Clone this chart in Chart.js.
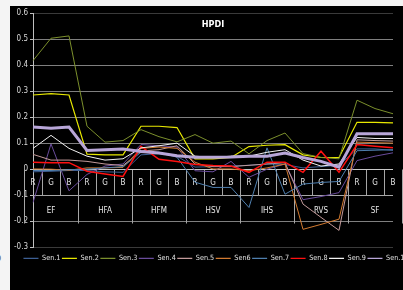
<!DOCTYPE html>
<html>
<head>
<meta charset="utf-8">
<script src="https://cdn.jsdelivr.net/npm/chart.js@4.4.0/dist/chart.umd.min.js"></script>
<style>
html,body{margin:0;padding:0;width:403px;height:290px;overflow:hidden;background:#f4f4f4}
#box{position:absolute;left:10px;top:6px;width:412px;height:284px;background:#000}
#frag{position:absolute;left:-4px;top:253px;font:9px "Liberation Sans",Arial,sans-serif;color:#555}
</style>
</head>
<body>
<span id="frag">0</span>
<div id="box"><canvas id="chart"></canvas></div>
<script>

const titleText="HPDI"
const categories=["EF","HFA","HFM","HSV","IHS","RVS","SF"]
const channels=["R","G","B"]
const yTickLabels=["-0.3","-0.2","-0.1","0","0.1","0.2","0.3","0.4","0.5","0.6"]
const seriesNames=["Sen.1","Sen.2","Sen.3","Sen.4","Sen.5","Sen6","Sen.7","Sen.8","Sen.9","Sen.10"]

const sen1=[-0.01,-0.008,-0.005, -0.005,-0.01,-0.012, 0.055,0.06,0.05, 0.008,0.01,0.012, 0.015,0.02,0.018, 0.005,0.01,0.015, 0.078,0.078,0.072]
const sen2=[0.285,0.29,0.285, 0.058,0.055,0.055, 0.165,0.165,0.16, 0.04,0.04,0.045, 0.087,0.092,0.094, 0.055,0.045,0.045, 0.18,0.18,0.178]
const sen3=[0.417,0.503,0.512, 0.165,0.104,0.11, 0.152,0.125,0.105, 0.133,0.1,0.108, 0.059,0.11,0.139, 0.06,0.045,0.04, 0.265,0.233,0.213]
const sen4=[-0.128,0.097,-0.083, -0.02,0.012,0.02, 0.095,0.09,0.085, -0.006,-0.01,0.03, -0.031,0.0,0.02, -0.117,-0.105,-0.09, 0.033,0.05,0.063]
const sen5=[0.057,0.035,0.035, 0.03,0.02,0.014, 0.07,0.075,0.09, 0.02,0.01,0.01, 0.015,0.02,0.025, -0.134,-0.185,-0.235, 0.113,0.11,0.108]
const sen6=[0.001,0,-0.004, 0.005,0.005,0.007, 0.08,0.085,0.08, 0.027,0.001,0.001, -0.006,0.005,0.02, -0.231,-0.212,-0.192, 0.104,0.102,0.1]
const sen7=[-0.005,-0.005,-0.002, 0,0.005,0.01, 0.065,0.065,0.046, -0.05,-0.07,-0.07, -0.147,0.082,-0.096, -0.057,-0.051,-0.047, 0.071,0.073,0.075]
const sen8=[0.027,0.025,0.025, -0.008,-0.018,-0.028, 0.088,0.038,0.03, 0.018,0.014,0.012, -0.012,0.027,0.027, -0.012,0.069,-0.012, 0.095,0.088,0.082]
const sen9=[0.08,0.13,0.08, 0.05,0.035,0.04, 0.082,0.09,0.1, 0.05,0.045,0.05, 0.05,0.065,0.075, 0.035,0.012,0.02, 0.122,0.118,0.118]
const sen10=[0.162,0.157,0.162, 0.072,0.075,0.078, 0.068,0.062,0.052, 0.046,0.046,0.047, 0.05,0.05,0.062, 0.045,0.03,0.008, 0.136,0.136,0.136]

const seriesValues=[sen1,sen2,sen3,sen4,sen5,sen6,sen7,sen8,sen9,sen10]
const seriesColors=["#3d5f94","#e8e800","#7b8f2c","#6a4c9c","#c39a9a","#d27a30","#4f7fae","#ff1010","#f2f2f2","#b8a6d8"]
const seriesWidths=[1,1.2,1,1,1,1,1,1.5,1,3]

const fontFam='"Liberation Sans Narrow","DejaVu Sans Condensed","Liberation Sans",Arial,sans-serif'

// R G B row labels, one per point
let labels=[]
categories.forEach(c=>channels.forEach(ch=>labels.push(ch)))

const datasets=seriesValues.map((vals,i)=>({
label:seriesNames[i],
data:vals,
borderColor:seriesColors[i],
backgroundColor:seriesColors[i],
borderWidth:seriesWidths[i],
pointRadius:0,
tension:0,
order:seriesValues.length-i
}))

// category "table" under the zero line, and the title inside the plot
const tablePlugin={
id:"catTable",
beforeDatasetsDraw(chart){
const ctx=chart.ctx
const x=chart.scales.x
const y=chart.scales.y
const a=chart.chartArea
const y0=Math.round(y.getPixelForValue(0))+0.5
const y1=Math.round(y.getPixelForValue(-0.1))+0.5
const y2=Math.round(y.getPixelForValue(-0.2))+0.5
ctx.save()
ctx.lineWidth=1
ctx.strokeStyle="#a6a6a6"
ctx.beginPath()
ctx.moveTo(a.left,y1)
ctx.lineTo(a.right,y1)
for(let i=0;i<=labels.length;i++){
const xb=Math.round(x.getPixelForValue(i-0.5))+0.5
ctx.moveTo(xb,y0)
ctx.lineTo(xb,i%3==0?y2+2:y1)
}
ctx.stroke()
ctx.strokeStyle="#c8c8c8"
ctx.beginPath()
ctx.moveTo(a.left,y0)
ctx.lineTo(a.right,y0)
ctx.stroke()
ctx.fillStyle="#e8e8e8"
ctx.font="8px "+fontFam
ctx.textAlign="center"
ctx.textBaseline="middle"
labels.forEach((t,i)=>ctx.fillText(t,x.getPixelForValue(i),(y0+y1)/2))
categories.forEach((t,g)=>ctx.fillText(t,x.getPixelForValue(g*3+1),(y1+y2)/2+2))
ctx.restore()
},
afterDatasetsDraw(chart){
const ctx=chart.ctx
const a=chart.chartArea
ctx.save()
ctx.fillStyle="#ffffff"
ctx.font="bold 9px "+fontFam
ctx.textAlign="center"
ctx.textBaseline="middle"
ctx.fillText(titleText,(a.left+a.right)/2,a.top+12)
ctx.restore()
}
}

const ctx=document.getElementById("chart")

new Chart(ctx,{
type:"line",
data:{labels:labels,datasets:datasets},
plugins:[tablePlugin],
options:{
responsive:true,
maintainAspectRatio:false,
animation:false,
layout:{padding:{top:7,right:0,bottom:18,left:0}},
scales:{
x:{
display:true,
ticks:{display:false},
grid:{display:false,drawTicks:false},
border:{display:false},
afterFit(s){s.height=6}
},
y:{
min:-0.3,
max:0.6,
ticks:{
stepSize:0.1,
color:"#d9d9d9",
font:{size:8,family:fontFam},
padding:2,
callback:(v,i)=>yTickLabels[i]
},
grid:{
color:c=>(c.tick&&(Math.abs(c.tick.value-0.6)<1e-6||Math.abs(c.tick.value+0.3)<1e-6))?"#3a3a3a":"#7f7f7f",
tickColor:"#bfbfbf",
tickLength:3
},
border:{color:"#bfbfbf"},
afterFit(s){s.width=23}
},
yr:{
position:"right",
display:true,
min:-0.3,
max:0.6,
ticks:{display:false},
grid:{display:false,drawTicks:false},
border:{display:false},
afterFit(s){s.width=29}
}
},
plugins:{
title:{display:false},
tooltip:{enabled:false},
legend:{
position:"bottom",
labels:{
color:"#e0e0e0",
font:{size:7.2,family:fontFam},
usePointStyle:true,
pointStyle:"line",
pointStyleWidth:15,
padding:1.5,
generateLabels:chart=>{
const items=Chart.defaults.plugins.legend.labels.generateLabels(chart)
items.forEach(it=>{it.lineWidth=1.2})
return items
},
sort:(a,b)=>a.datasetIndex-b.datasetIndex
}
}
}
}
})

</script>
</body>
</html>
